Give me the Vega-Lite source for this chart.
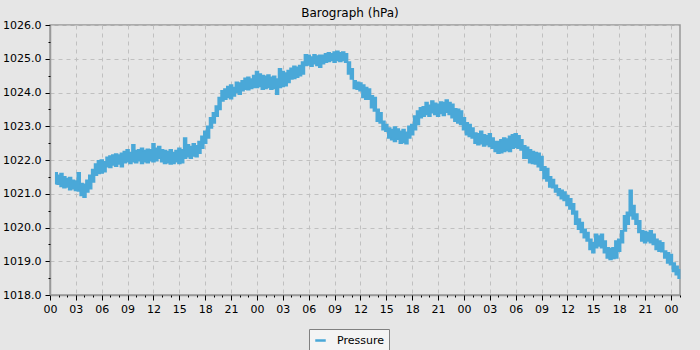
{
  "$schema": "https://vega.github.io/schema/vega-lite/v6.json",
  "width": 630,
  "height": 270,
  "autosize": {"type": "none"},
  "padding": {"left": 50, "top": 25, "right": 20, "bottom": 55},
  "background": "#e6e6e6",
  "title": {"text": "Barograph (hPa)", "font": "DejaVu Sans", "fontSize": 12, "fontWeight": "normal", "color": "#000000", "offset": -1, "dx": -15},
  "config": {
    "view": {"fill": "#e6e6e6", "stroke": "#999999", "strokeWidth": 1.5},
    "axis": {"labelFont": "DejaVu Sans", "labelFontSize": 11, "labelColor": "#000000", "domainColor": "#999999", "domainWidth": 1.5, "tickColor": "#000000", "gridColor": "#c0c0c0", "gridDash": [4, 4], "gridWidth": 1}
  },
  "data": {"values": [
    {"t": "2024-01-01T00:40Z", "lo": 1021.30, "hi": 1021.62},
    {"t": "2024-01-01T01:00Z", "lo": 1021.28, "hi": 1021.55},
    {"t": "2024-01-01T01:20Z", "lo": 1021.22, "hi": 1021.60},
    {"t": "2024-01-01T01:40Z", "lo": 1021.18, "hi": 1021.50},
    {"t": "2024-01-01T02:00Z", "lo": 1021.20, "hi": 1021.45},
    {"t": "2024-01-01T02:20Z", "lo": 1021.12, "hi": 1021.48},
    {"t": "2024-01-01T02:40Z", "lo": 1021.15, "hi": 1021.40},
    {"t": "2024-01-01T03:00Z", "lo": 1021.10, "hi": 1021.38},
    {"t": "2024-01-01T03:20Z", "lo": 1021.08, "hi": 1021.62},
    {"t": "2024-01-01T03:40Z", "lo": 1020.95, "hi": 1021.30},
    {"t": "2024-01-01T04:00Z", "lo": 1020.90, "hi": 1021.28},
    {"t": "2024-01-01T04:20Z", "lo": 1021.05, "hi": 1021.40},
    {"t": "2024-01-01T04:40Z", "lo": 1021.15, "hi": 1021.55},
    {"t": "2024-01-01T05:00Z", "lo": 1021.35, "hi": 1021.72},
    {"t": "2024-01-01T05:20Z", "lo": 1021.55, "hi": 1021.88},
    {"t": "2024-01-01T05:40Z", "lo": 1021.60, "hi": 1021.98},
    {"t": "2024-01-01T06:00Z", "lo": 1021.62, "hi": 1022.00},
    {"t": "2024-01-01T06:20Z", "lo": 1021.65, "hi": 1021.95},
    {"t": "2024-01-01T06:40Z", "lo": 1021.80, "hi": 1022.08},
    {"t": "2024-01-01T07:00Z", "lo": 1021.78, "hi": 1022.12},
    {"t": "2024-01-01T07:20Z", "lo": 1021.85, "hi": 1022.15},
    {"t": "2024-01-01T07:40Z", "lo": 1021.82, "hi": 1022.18},
    {"t": "2024-01-01T08:00Z", "lo": 1021.88, "hi": 1022.15},
    {"t": "2024-01-01T08:20Z", "lo": 1021.80, "hi": 1022.20},
    {"t": "2024-01-01T08:40Z", "lo": 1021.92, "hi": 1022.25},
    {"t": "2024-01-01T09:00Z", "lo": 1021.95, "hi": 1022.30},
    {"t": "2024-01-01T09:20Z", "lo": 1021.90, "hi": 1022.22},
    {"t": "2024-01-01T09:40Z", "lo": 1021.95, "hi": 1022.45},
    {"t": "2024-01-01T10:00Z", "lo": 1021.92, "hi": 1022.28},
    {"t": "2024-01-01T10:20Z", "lo": 1021.98, "hi": 1022.30},
    {"t": "2024-01-01T10:40Z", "lo": 1021.90, "hi": 1022.35},
    {"t": "2024-01-01T11:00Z", "lo": 1021.95, "hi": 1022.28},
    {"t": "2024-01-01T11:20Z", "lo": 1021.92, "hi": 1022.32},
    {"t": "2024-01-01T11:40Z", "lo": 1021.98, "hi": 1022.30},
    {"t": "2024-01-01T12:00Z", "lo": 1021.95, "hi": 1022.48},
    {"t": "2024-01-01T12:20Z", "lo": 1021.98, "hi": 1022.35},
    {"t": "2024-01-01T12:40Z", "lo": 1022.05, "hi": 1022.40},
    {"t": "2024-01-01T13:00Z", "lo": 1021.95, "hi": 1022.30},
    {"t": "2024-01-01T13:20Z", "lo": 1021.90, "hi": 1022.28},
    {"t": "2024-01-01T13:40Z", "lo": 1021.92, "hi": 1022.25},
    {"t": "2024-01-01T14:00Z", "lo": 1021.88, "hi": 1022.30},
    {"t": "2024-01-01T14:20Z", "lo": 1021.90, "hi": 1022.22},
    {"t": "2024-01-01T14:40Z", "lo": 1021.95, "hi": 1022.28},
    {"t": "2024-01-01T15:00Z", "lo": 1021.90, "hi": 1022.35},
    {"t": "2024-01-01T15:20Z", "lo": 1021.92, "hi": 1022.30},
    {"t": "2024-01-01T15:40Z", "lo": 1022.05, "hi": 1022.65},
    {"t": "2024-01-01T16:00Z", "lo": 1022.10, "hi": 1022.45},
    {"t": "2024-01-01T16:20Z", "lo": 1022.05, "hi": 1022.40},
    {"t": "2024-01-01T16:40Z", "lo": 1022.12, "hi": 1022.48},
    {"t": "2024-01-01T17:00Z", "lo": 1022.10, "hi": 1022.42},
    {"t": "2024-01-01T17:20Z", "lo": 1022.20, "hi": 1022.55},
    {"t": "2024-01-01T17:40Z", "lo": 1022.35, "hi": 1022.70},
    {"t": "2024-01-01T18:00Z", "lo": 1022.50, "hi": 1022.85},
    {"t": "2024-01-01T18:20Z", "lo": 1022.65, "hi": 1023.00},
    {"t": "2024-01-01T18:40Z", "lo": 1022.95, "hi": 1023.25},
    {"t": "2024-01-01T19:00Z", "lo": 1023.10, "hi": 1023.40},
    {"t": "2024-01-01T19:20Z", "lo": 1023.30, "hi": 1023.60},
    {"t": "2024-01-01T19:40Z", "lo": 1023.50, "hi": 1023.85},
    {"t": "2024-01-01T20:00Z", "lo": 1023.75, "hi": 1024.05},
    {"t": "2024-01-01T20:20Z", "lo": 1023.80, "hi": 1024.10},
    {"t": "2024-01-01T20:40Z", "lo": 1023.85, "hi": 1024.18},
    {"t": "2024-01-01T21:00Z", "lo": 1023.82, "hi": 1024.22},
    {"t": "2024-01-01T21:20Z", "lo": 1023.90, "hi": 1024.15},
    {"t": "2024-01-01T21:40Z", "lo": 1024.00, "hi": 1024.30},
    {"t": "2024-01-01T22:00Z", "lo": 1023.95, "hi": 1024.28},
    {"t": "2024-01-01T22:20Z", "lo": 1024.05, "hi": 1024.35},
    {"t": "2024-01-01T22:40Z", "lo": 1024.10, "hi": 1024.42},
    {"t": "2024-01-01T23:00Z", "lo": 1024.08, "hi": 1024.45},
    {"t": "2024-01-01T23:20Z", "lo": 1024.12, "hi": 1024.40},
    {"t": "2024-01-01T23:40Z", "lo": 1024.15, "hi": 1024.50},
    {"t": "2024-01-02T00:00Z", "lo": 1024.15, "hi": 1024.62},
    {"t": "2024-01-02T00:20Z", "lo": 1024.18, "hi": 1024.55},
    {"t": "2024-01-02T00:40Z", "lo": 1024.10, "hi": 1024.50},
    {"t": "2024-01-02T01:00Z", "lo": 1024.12, "hi": 1024.48},
    {"t": "2024-01-02T01:20Z", "lo": 1024.15, "hi": 1024.52},
    {"t": "2024-01-02T01:40Z", "lo": 1024.10, "hi": 1024.45},
    {"t": "2024-01-02T02:00Z", "lo": 1024.12, "hi": 1024.48},
    {"t": "2024-01-02T02:20Z", "lo": 1023.95, "hi": 1024.40},
    {"t": "2024-01-02T02:40Z", "lo": 1024.15, "hi": 1024.70},
    {"t": "2024-01-02T03:00Z", "lo": 1024.18, "hi": 1024.62},
    {"t": "2024-01-02T03:20Z", "lo": 1024.20, "hi": 1024.58},
    {"t": "2024-01-02T03:40Z", "lo": 1024.30, "hi": 1024.65},
    {"t": "2024-01-02T04:00Z", "lo": 1024.40, "hi": 1024.72},
    {"t": "2024-01-02T04:20Z", "lo": 1024.42, "hi": 1024.78},
    {"t": "2024-01-02T04:40Z", "lo": 1024.45, "hi": 1024.75},
    {"t": "2024-01-02T05:00Z", "lo": 1024.50, "hi": 1024.80},
    {"t": "2024-01-02T05:20Z", "lo": 1024.55, "hi": 1024.90},
    {"t": "2024-01-02T05:40Z", "lo": 1024.80, "hi": 1025.12},
    {"t": "2024-01-02T06:00Z", "lo": 1024.82, "hi": 1025.10},
    {"t": "2024-01-02T06:20Z", "lo": 1024.78, "hi": 1025.05},
    {"t": "2024-01-02T06:40Z", "lo": 1024.85, "hi": 1025.12},
    {"t": "2024-01-02T07:00Z", "lo": 1024.80, "hi": 1025.08},
    {"t": "2024-01-02T07:20Z", "lo": 1024.75, "hi": 1025.10},
    {"t": "2024-01-02T07:40Z", "lo": 1024.85, "hi": 1025.10},
    {"t": "2024-01-02T08:00Z", "lo": 1024.90, "hi": 1025.15},
    {"t": "2024-01-02T08:20Z", "lo": 1024.92, "hi": 1025.18},
    {"t": "2024-01-02T08:40Z", "lo": 1024.95, "hi": 1025.15},
    {"t": "2024-01-02T09:00Z", "lo": 1024.90, "hi": 1025.20},
    {"t": "2024-01-02T09:20Z", "lo": 1024.95, "hi": 1025.22},
    {"t": "2024-01-02T09:40Z", "lo": 1024.92, "hi": 1025.18},
    {"t": "2024-01-02T10:00Z", "lo": 1024.95, "hi": 1025.20},
    {"t": "2024-01-02T10:20Z", "lo": 1024.90, "hi": 1025.15},
    {"t": "2024-01-02T10:40Z", "lo": 1024.55, "hi": 1024.90},
    {"t": "2024-01-02T11:00Z", "lo": 1024.40, "hi": 1024.70},
    {"t": "2024-01-02T11:20Z", "lo": 1024.12, "hi": 1024.35},
    {"t": "2024-01-02T11:40Z", "lo": 1024.10, "hi": 1024.30},
    {"t": "2024-01-02T12:00Z", "lo": 1024.05, "hi": 1024.28},
    {"t": "2024-01-02T12:20Z", "lo": 1023.85, "hi": 1024.22},
    {"t": "2024-01-02T12:40Z", "lo": 1023.80, "hi": 1024.15},
    {"t": "2024-01-02T13:00Z", "lo": 1023.80, "hi": 1024.10},
    {"t": "2024-01-02T13:20Z", "lo": 1023.55, "hi": 1023.90},
    {"t": "2024-01-02T13:40Z", "lo": 1023.45, "hi": 1023.85},
    {"t": "2024-01-02T14:00Z", "lo": 1023.15, "hi": 1023.50},
    {"t": "2024-01-02T14:20Z", "lo": 1023.10, "hi": 1023.40},
    {"t": "2024-01-02T14:40Z", "lo": 1022.90, "hi": 1023.15},
    {"t": "2024-01-02T15:00Z", "lo": 1022.85, "hi": 1023.05},
    {"t": "2024-01-02T15:20Z", "lo": 1022.65, "hi": 1022.95},
    {"t": "2024-01-02T15:40Z", "lo": 1022.60, "hi": 1022.90},
    {"t": "2024-01-02T16:00Z", "lo": 1022.55, "hi": 1022.98},
    {"t": "2024-01-02T16:20Z", "lo": 1022.62, "hi": 1022.92},
    {"t": "2024-01-02T16:40Z", "lo": 1022.50, "hi": 1022.85},
    {"t": "2024-01-02T17:00Z", "lo": 1022.52, "hi": 1022.90},
    {"t": "2024-01-02T17:20Z", "lo": 1022.48, "hi": 1022.82},
    {"t": "2024-01-02T17:40Z", "lo": 1022.65, "hi": 1023.00},
    {"t": "2024-01-02T18:00Z", "lo": 1022.75, "hi": 1023.05},
    {"t": "2024-01-02T18:20Z", "lo": 1022.90, "hi": 1023.30},
    {"t": "2024-01-02T18:40Z", "lo": 1023.05, "hi": 1023.45},
    {"t": "2024-01-02T19:00Z", "lo": 1023.25, "hi": 1023.55},
    {"t": "2024-01-02T19:20Z", "lo": 1023.30, "hi": 1023.58},
    {"t": "2024-01-02T19:40Z", "lo": 1023.35, "hi": 1023.70},
    {"t": "2024-01-02T20:00Z", "lo": 1023.30, "hi": 1023.62},
    {"t": "2024-01-02T20:20Z", "lo": 1023.40, "hi": 1023.75},
    {"t": "2024-01-02T20:40Z", "lo": 1023.35, "hi": 1023.68},
    {"t": "2024-01-02T21:00Z", "lo": 1023.30, "hi": 1023.65},
    {"t": "2024-01-02T21:20Z", "lo": 1023.38, "hi": 1023.72},
    {"t": "2024-01-02T21:40Z", "lo": 1023.32, "hi": 1023.70},
    {"t": "2024-01-02T22:00Z", "lo": 1023.42, "hi": 1023.78},
    {"t": "2024-01-02T22:20Z", "lo": 1023.35, "hi": 1023.70},
    {"t": "2024-01-02T22:40Z", "lo": 1023.25, "hi": 1023.65},
    {"t": "2024-01-02T23:00Z", "lo": 1023.15, "hi": 1023.52},
    {"t": "2024-01-02T23:20Z", "lo": 1023.10, "hi": 1023.50},
    {"t": "2024-01-02T23:40Z", "lo": 1023.05, "hi": 1023.45},
    {"t": "2024-01-03T00:00Z", "lo": 1022.90, "hi": 1023.25},
    {"t": "2024-01-03T00:20Z", "lo": 1022.75, "hi": 1023.10},
    {"t": "2024-01-03T00:40Z", "lo": 1022.70, "hi": 1023.05},
    {"t": "2024-01-03T01:00Z", "lo": 1022.65, "hi": 1022.95},
    {"t": "2024-01-03T01:20Z", "lo": 1022.50, "hi": 1022.80},
    {"t": "2024-01-03T01:40Z", "lo": 1022.45, "hi": 1022.78},
    {"t": "2024-01-03T02:00Z", "lo": 1022.48, "hi": 1022.85},
    {"t": "2024-01-03T02:20Z", "lo": 1022.42, "hi": 1022.75},
    {"t": "2024-01-03T02:40Z", "lo": 1022.45, "hi": 1022.72},
    {"t": "2024-01-03T03:00Z", "lo": 1022.40, "hi": 1022.78},
    {"t": "2024-01-03T03:20Z", "lo": 1022.35, "hi": 1022.65},
    {"t": "2024-01-03T03:40Z", "lo": 1022.25, "hi": 1022.55},
    {"t": "2024-01-03T04:00Z", "lo": 1022.20, "hi": 1022.55},
    {"t": "2024-01-03T04:20Z", "lo": 1022.22, "hi": 1022.60},
    {"t": "2024-01-03T04:40Z", "lo": 1022.25, "hi": 1022.65},
    {"t": "2024-01-03T05:00Z", "lo": 1022.28, "hi": 1022.62},
    {"t": "2024-01-03T05:20Z", "lo": 1022.25, "hi": 1022.70},
    {"t": "2024-01-03T05:40Z", "lo": 1022.35, "hi": 1022.75},
    {"t": "2024-01-03T06:00Z", "lo": 1022.38, "hi": 1022.78},
    {"t": "2024-01-03T06:20Z", "lo": 1022.35, "hi": 1022.72},
    {"t": "2024-01-03T06:40Z", "lo": 1022.30, "hi": 1022.60},
    {"t": "2024-01-03T07:00Z", "lo": 1022.05, "hi": 1022.42},
    {"t": "2024-01-03T07:20Z", "lo": 1022.05, "hi": 1022.38},
    {"t": "2024-01-03T07:40Z", "lo": 1021.92, "hi": 1022.30},
    {"t": "2024-01-03T08:00Z", "lo": 1021.90, "hi": 1022.25},
    {"t": "2024-01-03T08:20Z", "lo": 1021.88, "hi": 1022.22},
    {"t": "2024-01-03T08:40Z", "lo": 1021.80, "hi": 1022.20},
    {"t": "2024-01-03T09:00Z", "lo": 1021.70, "hi": 1022.10},
    {"t": "2024-01-03T09:20Z", "lo": 1021.45, "hi": 1021.80},
    {"t": "2024-01-03T09:40Z", "lo": 1021.38, "hi": 1021.75},
    {"t": "2024-01-03T10:00Z", "lo": 1021.20, "hi": 1021.50},
    {"t": "2024-01-03T10:20Z", "lo": 1021.18, "hi": 1021.42},
    {"t": "2024-01-03T10:40Z", "lo": 1021.05, "hi": 1021.25},
    {"t": "2024-01-03T11:00Z", "lo": 1020.95, "hi": 1021.15},
    {"t": "2024-01-03T11:20Z", "lo": 1020.85, "hi": 1021.10},
    {"t": "2024-01-03T11:40Z", "lo": 1020.80, "hi": 1021.05},
    {"t": "2024-01-03T12:00Z", "lo": 1020.65, "hi": 1020.95},
    {"t": "2024-01-03T12:20Z", "lo": 1020.55, "hi": 1020.85},
    {"t": "2024-01-03T12:40Z", "lo": 1020.40, "hi": 1020.70},
    {"t": "2024-01-03T13:00Z", "lo": 1020.10, "hi": 1020.48},
    {"t": "2024-01-03T13:20Z", "lo": 1019.95, "hi": 1020.25},
    {"t": "2024-01-03T13:40Z", "lo": 1019.85, "hi": 1020.15},
    {"t": "2024-01-03T14:00Z", "lo": 1019.70, "hi": 1019.95},
    {"t": "2024-01-03T14:20Z", "lo": 1019.60, "hi": 1019.85},
    {"t": "2024-01-03T14:40Z", "lo": 1019.35, "hi": 1019.65},
    {"t": "2024-01-03T15:00Z", "lo": 1019.25, "hi": 1019.55},
    {"t": "2024-01-03T15:20Z", "lo": 1019.40, "hi": 1019.80},
    {"t": "2024-01-03T15:40Z", "lo": 1019.45, "hi": 1019.75},
    {"t": "2024-01-03T16:00Z", "lo": 1019.40, "hi": 1019.80},
    {"t": "2024-01-03T16:20Z", "lo": 1019.25, "hi": 1019.60},
    {"t": "2024-01-03T16:40Z", "lo": 1019.10, "hi": 1019.40},
    {"t": "2024-01-03T17:00Z", "lo": 1019.05, "hi": 1019.38},
    {"t": "2024-01-03T17:20Z", "lo": 1019.08, "hi": 1019.40},
    {"t": "2024-01-03T17:40Z", "lo": 1019.10, "hi": 1019.60},
    {"t": "2024-01-03T18:00Z", "lo": 1019.30, "hi": 1019.65},
    {"t": "2024-01-03T18:20Z", "lo": 1019.55, "hi": 1019.90},
    {"t": "2024-01-03T18:40Z", "lo": 1019.90, "hi": 1020.35},
    {"t": "2024-01-03T19:00Z", "lo": 1020.10, "hi": 1020.45},
    {"t": "2024-01-03T19:20Z", "lo": 1020.35, "hi": 1021.10},
    {"t": "2024-01-03T19:40Z", "lo": 1020.25, "hi": 1020.65},
    {"t": "2024-01-03T20:00Z", "lo": 1020.10, "hi": 1020.40},
    {"t": "2024-01-03T20:20Z", "lo": 1019.85, "hi": 1020.20},
    {"t": "2024-01-03T20:40Z", "lo": 1019.60, "hi": 1019.90},
    {"t": "2024-01-03T21:00Z", "lo": 1019.55, "hi": 1019.88},
    {"t": "2024-01-03T21:20Z", "lo": 1019.60, "hi": 1019.85},
    {"t": "2024-01-03T21:40Z", "lo": 1019.55, "hi": 1019.90},
    {"t": "2024-01-03T22:00Z", "lo": 1019.50, "hi": 1019.80},
    {"t": "2024-01-03T22:20Z", "lo": 1019.35, "hi": 1019.65},
    {"t": "2024-01-03T22:40Z", "lo": 1019.30, "hi": 1019.60},
    {"t": "2024-01-03T23:00Z", "lo": 1019.28, "hi": 1019.55},
    {"t": "2024-01-03T23:20Z", "lo": 1019.10, "hi": 1019.30},
    {"t": "2024-01-03T23:40Z", "lo": 1018.95, "hi": 1019.25},
    {"t": "2024-01-04T00:00Z", "lo": 1018.90, "hi": 1019.20},
    {"t": "2024-01-04T00:20Z", "lo": 1018.70, "hi": 1018.95},
    {"t": "2024-01-04T00:40Z", "lo": 1018.60, "hi": 1018.85},
    {"t": "2024-01-04T01:00Z", "lo": 1018.50, "hi": 1018.75}
  ]},
  "layer": [
    {
      "mark": {"type": "area", "interpolate": "step", "stroke": "#4aa8d8", "strokeWidth": 1.6},
      "encoding": {
        "x": {
          "field": "t", "type": "temporal",
          "scale": {"type": "utc", "domain": [1704067200000, 1704330180000]},
          "axis": {
            "title": null,
            "orient": "bottom",
            "values": [1704067200000, 1704078000000, 1704088800000, 1704099600000, 1704110400000, 1704121200000, 1704132000000, 1704142800000, 1704153600000, 1704164400000, 1704175200000, 1704186000000, 1704196800000, 1704207600000, 1704218400000, 1704229200000, 1704240000000, 1704250800000, 1704261600000, 1704272400000, 1704283200000, 1704294000000, 1704304800000, 1704315600000, 1704326400000],
            "format": "%H",
            "labelOverlap": false,
            "labelFlush": false,
            "labelPadding": 3,
            "tickSize": 5
          }
        },
        "y": {
          "field": "lo", "type": "quantitative",
          "scale": {"domain": [1018, 1026], "zero": false},
          "axis": {
            "title": null,
            "orient": "left",
            "values": [1018, 1019, 1020, 1021, 1022, 1023, 1024, 1025, 1026],
            "format": ".1f",
            "labelOverlap": false,
            "labelFlush": false,
            "labelPadding": 4,
            "tickSize": 5
          }
        },
        "y2": {"field": "hi"},
        "color": {
          "datum": "Pressure", "type": "nominal",
          "scale": {"range": ["#4aa8d8"]},
          "legend": {
            "title": null, "orient": "none", "legendX": 259, "legendY": 304, "direction": "horizontal",
            "fillColor": "#f4f4f4", "strokeColor": "#808080", "padding": 5,
            "symbolType": "stroke", "symbolSize": 110, "symbolStrokeWidth": 2.5, "symbolStrokeColor": "#4aa8d8",
            "labelFont": "DejaVu Sans", "labelFontSize": 11, "labelColor": "#000000", "labelOffset": 10
          }
        }
      }
    },
    {
      "mark": {"type": "area", "interpolate": "step", "opacity": 0},
      "encoding": {
        "x": {
          "field": "t", "type": "temporal",
          "axis": {
            "title": null,
            "orient": "bottom",
            "values": [1704067200000, 1704070800000, 1704074400000, 1704078000000, 1704081600000, 1704085200000, 1704088800000, 1704092400000, 1704096000000, 1704099600000, 1704103200000, 1704106800000, 1704110400000, 1704114000000, 1704117600000, 1704121200000, 1704124800000, 1704128400000, 1704132000000, 1704135600000, 1704139200000, 1704142800000, 1704146400000, 1704150000000, 1704153600000, 1704157200000, 1704160800000, 1704164400000, 1704168000000, 1704171600000, 1704175200000, 1704178800000, 1704182400000, 1704186000000, 1704189600000, 1704193200000, 1704196800000, 1704200400000, 1704204000000, 1704207600000, 1704211200000, 1704214800000, 1704218400000, 1704222000000, 1704225600000, 1704229200000, 1704232800000, 1704236400000, 1704240000000, 1704243600000, 1704247200000, 1704250800000, 1704254400000, 1704258000000, 1704261600000, 1704265200000, 1704268800000, 1704272400000, 1704276000000, 1704279600000, 1704283200000, 1704286800000, 1704290400000, 1704294000000, 1704297600000, 1704301200000, 1704304800000, 1704308400000, 1704312000000, 1704315600000, 1704319200000, 1704322800000, 1704326400000, 1704330000000],
            "labels": false,
            "grid": false,
            "domain": false,
            "tickSize": 2
          }
        },
        "y": {
          "field": "lo", "type": "quantitative",
          "axis": {
            "title": null,
            "orient": "left",
            "values": [1018.5, 1019.5, 1020.5, 1021.5, 1022.5, 1023.5, 1024.5, 1025.5],
            "labels": false,
            "grid": false,
            "domain": false,
            "tickSize": 2
          }
        },
        "y2": {"field": "hi"}
      }
    }
  ],
  "resolve": {"axis": {"x": "independent", "y": "independent"}}
}
